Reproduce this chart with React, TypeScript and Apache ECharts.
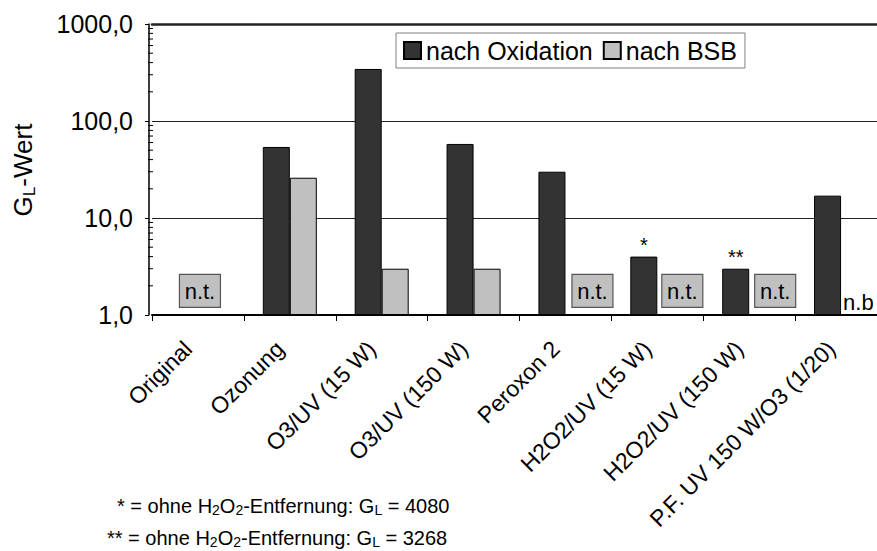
import React, { useEffect, useRef } from "react";
import * as echarts from "echarts";

const categories = [
  "Original",
  "Ozonung",
  "O3/UV (15 W)",
  "O3/UV (150 W)",
  "Peroxon 2",
  "H2O2/UV (15 W)",
  "H2O2/UV (150 W)",
  "P.F. UV 150 W/O3 (1/20)",
];
const oxidation: (number | null)[] = [null, 54, 344, 58, 30, 4.0, 3.0, 17];
const bsb: (number | null)[] = [null, 26, 3.0, 3.0, null, null, null, null];
const barMarks = ["", "", "", "", "", "*", "**", ""];
const ntCategories = [0, 4, 5, 6];
const ntLevel = 1.77;
const nbCategory = 7;
const nbLevel = 1.33;
const minorTicks = [2, 3, 4, 5, 6, 7, 8, 9, 20, 30, 40, 50, 60, 70, 80, 90, 200, 300, 400, 500, 600, 700, 800, 900];

const FONT = "'Liberation Sans', Arial, Helvetica, sans-serif";
const DARK = "#333333";
const LIGHT = "#c0c0c0";

export default function App() {
  const ref = useRef<HTMLDivElement>(null);
  useEffect(() => {
    if (!ref.current) return;
    const chart = echarts.init(ref.current, null, { renderer: "svg" });
    const ntOffsets = [2, 27, 25, 26];
    const option: any = {
      animation: false,
      backgroundColor: "#fff",
      textStyle: { fontFamily: FONT, color: "#000" },
      grid: {
        left: 152,
        top: 24,
        width: 735,
        height: 291,
        containLabel: false,
        outerBoundsMode: "none",
      },
      legend: {
        left: 396,
        top: 33,
        data: ["nach Oxidation", "nach BSB"],
        icon: "rect",
        itemWidth: 17,
        itemHeight: 17,
        itemGap: 10,
        padding: [5, 8, 5, 7],
        borderColor: "#808080",
        borderWidth: 1,
        backgroundColor: "#fff",
        textStyle: { fontFamily: FONT, fontSize: 25, color: "#000" },
      },
      xAxis: [
        {
          type: "category",
          data: categories,
          position: "bottom",
          axisLine: { lineStyle: { color: "#000", width: 2 } },
          axisTick: { show: true, length: 6, lineStyle: { color: "#000", width: 1 } },
          axisLabel: {
            interval: 0,
            rotate: 45,
            fontSize: 23,
            fontFamily: FONT,
            color: "#000",
            margin: 20,
            padding: [0, 14, 0, 0],
          },
          splitLine: { show: false },
        },
        {
          type: "category",
          data: categories,
          position: "top",
          axisLine: { lineStyle: { color: "#222", width: 2.5 } },
          axisTick: { show: false },
          axisLabel: { show: false },
        },
      ],
      yAxis: {
        type: "log",
        logBase: 10,
        min: 1,
        max: 1000,
        offset: 3,
        axisLine: { show: true, lineStyle: { color: "#000", width: 1.5 } },
        axisTick: { show: true, length: 4, lineStyle: { color: "#000" } },
        axisLabel: {
          fontSize: 25,
          fontFamily: FONT,
          color: "#000",
          margin: 16,
          formatter: (v: number) => v.toFixed(1).replace(".", ","),
        },
        splitLine: { show: true, lineStyle: { color: "#222", width: 1 } },
      },
      series: [
        {
          name: "nach Oxidation",
          type: "bar",
          barWidth: 27,
          barGap: "0%",
          itemStyle: { color: DARK, borderColor: "#000", borderWidth: 1 },
          data: oxidation.map((v, i) => ({
            value: v,
            label: {
              show: barMarks[i] !== "",
              position: "top",
              distance: 2,
              formatter: barMarks[i],
              fontSize: 20,
              fontFamily: FONT,
              color: "#000",
            },
          })),
        },
        {
          name: "nach BSB",
          type: "bar",
          barWidth: 27,
          barGap: "0%",
          itemStyle: { color: LIGHT, borderColor: "#000", borderWidth: 1 },
          data: bsb,
        },
        {
          name: "nt",
          type: "custom",
          clip: false,
          z: 5,
          encode: { x: 0, y: 1 },
          renderItem: (params: any, api: any) => {
            const c = api.coord([api.value(0), api.value(1)]);
            const x = c[0] + api.value(2);
            return {
              type: "group",
              children: [
                {
                  type: "rect",
                  shape: { x: x - 20.5, y: c[1] - 16.5, width: 41, height: 33 },
                  style: { fill: LIGHT, stroke: "#555", lineWidth: 1.2 },
                },
                {
                  type: "text",
                  x: x,
                  y: c[1] + 1,
                  style: {
                    text: "n.t.",
                    align: "center",
                    verticalAlign: "middle",
                    font: `22px ${FONT}`,
                    fill: "#000",
                  },
                },
              ],
            };
          },
          data: ntCategories.map((c, i) => [c, ntLevel, ntOffsets[i]]),
        },
        {
          name: "nb",
          type: "custom",
          clip: false,
          z: 5,
          encode: { x: 0, y: 1 },
          renderItem: (params: any, api: any) => {
            const c = api.coord([api.value(0), api.value(1)]);
            return {
              type: "text",
              x: c[0] + 2,
              y: c[1],
              style: {
                text: "n.b",
                align: "left",
                verticalAlign: "middle",
                font: `22px ${FONT}`,
                fill: "#000",
              },
            };
          },
          data: [[nbCategory, nbLevel]],
        },
        {
          name: "minor",
          type: "custom",
          clip: false,
          silent: true,
          z: 10,
          encode: { x: 0, y: 1 },
          renderItem: (params: any, api: any) => {
            const v = api.value(1);
            const p = api.coord([0, v]);
            const w = api.size([1, 0])[0];
            const x0 = p[0] - w / 2 - 3;
            return {
              type: "line",
              shape: { x1: x0 - 1, y1: p[1], x2: x0 + 4, y2: p[1] },
              style: { stroke: "#000", lineWidth: 1 },
            };
          },
          data: minorTicks.map((v) => [0, v]),
        },
      ],
      graphic: [
        {
          type: "text",
          x: 23,
          y: 170,
          rotation: Math.PI / 2,
          style: {
            text: "{a|G}{s|L}{a|-Wert}",
            align: "center",
            verticalAlign: "middle",
            fill: "#000",
            font: `26px ${FONT}`,
            rich: {
              a: { fontSize: 26, fontFamily: FONT, fill: "#000" },
              s: { fontSize: 17, fontFamily: FONT, fill: "#000", padding: [12, 0, 0, 0] },
            },
          },
        },
        {
          type: "text",
          x: 117,
          y: 506,
          style: {
            text: "{a|* = ohne H}{s|2}{a|O}{s|2}{a|-Entfernung: G}{s|L}{a| = 4080}",
            align: "left",
            verticalAlign: "middle",
            fill: "#000",
            font: `20px ${FONT}`,
            rich: {
              a: { fontSize: 20, fontFamily: FONT, fill: "#000" },
              s: { fontSize: 14, fontFamily: FONT, fill: "#000", padding: [8, 0, 0, 0] },
            },
          },
        },
        {
          type: "text",
          x: 107,
          y: 538,
          style: {
            text: "{a|** = ohne H}{s|2}{a|O}{s|2}{a|-Entfernung: G}{s|L}{a| = 3268}",
            align: "left",
            verticalAlign: "middle",
            fill: "#000",
            font: `20px ${FONT}`,
            rich: {
              a: { fontSize: 20, fontFamily: FONT, fill: "#000" },
              s: { fontSize: 14, fontFamily: FONT, fill: "#000", padding: [8, 0, 0, 0] },
            },
          },
        },
      ],
    };
    chart.setOption(option);
    return () => chart.dispose();
  }, []);
  return (
    <div
      ref={ref}
      style={{ position: "absolute", left: 0, top: 0, width: 877, height: 551, overflow: "hidden" }}
    />
  );
}
